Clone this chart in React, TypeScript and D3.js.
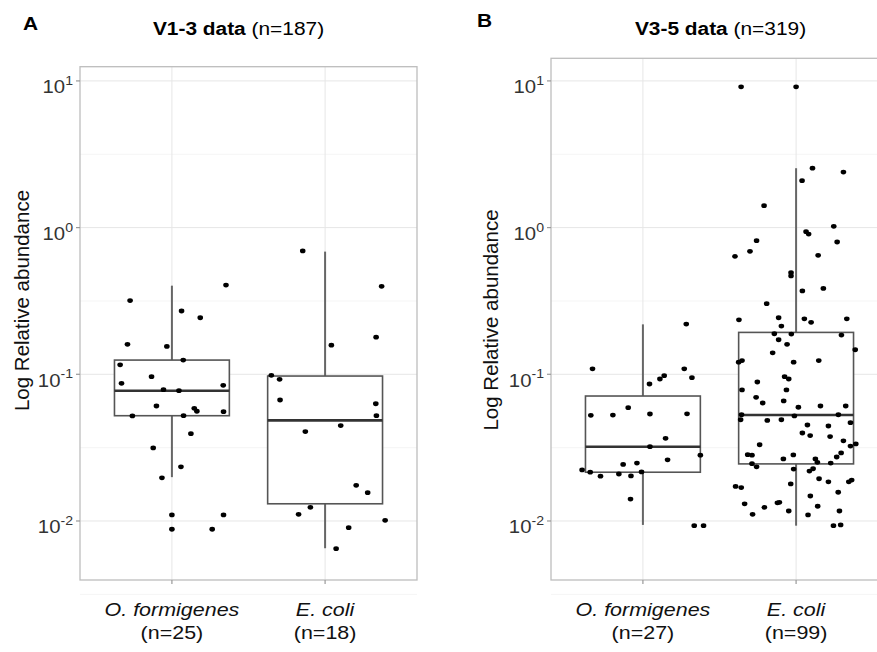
import * as d3 from "d3";

const categories = ["O. formigenes", "E. coli"];
const countsA = ["(n=25)", "(n=18)"];
const countsB = ["(n=27)", "(n=99)"];
const yMajor = [0.01, 0.1, 1, 10];
const yMajorExp = ["-2", "-1", "0", "1"];
const yMinor = [0.00316, 0.0316, 0.316, 3.16];

// box stats per category: [lower whisker, q1, median, q3, upper whisker]
const boxV13 = [
  [0.0199, 0.0522, 0.0773, 0.125, 0.402],
  [0.00652, 0.0131, 0.0485, 0.0973, 0.686],
];
const boxV35 = [
  [0.0094, 0.0215, 0.0321, 0.0711, 0.219],
  [0.00929, 0.0245, 0.0528, 0.193, 2.54],
];

// points: [jitter offset in category widths, relative abundance]
const v13Oform: [number, number][] = [
  [0.353, 0.406], [-0.273, 0.318], [0.063, 0.27], [0.185, 0.243], [-0.29, 0.16],
  [-0.033, 0.155], [0.074, 0.125], [-0.338, 0.116], [-0.133, 0.0963], [-0.329, 0.0868],
  [0.335, 0.0841], [-0.055, 0.0785], [0.046, 0.0773], [-0.101, 0.0608], [0.146, 0.0586],
  [0.163, 0.056], [0.337, 0.0556], [-0.258, 0.052], [0.076, 0.0522], [0.124, 0.0394],
  [-0.122, 0.0315], [0.059, 0.0234], [-0.065, 0.0197], [0, 0.011], [0.337, 0.011],
  [0, 0.00878], [0.263, 0.00878],
];
const v13Ecoli: [number, number][] = [
  [-0.146, 0.693], [0.369, 0.398], [0.333, 0.179], [0.041, 0.158], [-0.351, 0.0984],
  [-0.297, 0.0924], [-0.294, 0.0668], [0.331, 0.063], [0.335, 0.0522], [0.102, 0.0447],
  [-0.129, 0.0407], [0.203, 0.0175], [0.278, 0.0156], [-0.096, 0.0124], [-0.173, 0.0111],
  [0.392, 0.0101], [0.154, 0.009], [0.072, 0.00648],
];
const v35Oform: [number, number][] = [
  [0.283, 0.22], [-0.329, 0.109], [0.27, 0.109], [0.32, 0.0948], [0.139, 0.0978],
  [0.111, 0.0929], [0.043, 0.0859], [-0.096, 0.0592], [-0.34, 0.0525], [-0.196, 0.0527],
  [0.046, 0.0536], [0.288, 0.0538], [0.148, 0.0366], [0.046, 0.0321], [0.375, 0.0281],
  [0.161, 0.0261], [-0.129, 0.0243], [-0.039, 0.0248], [-0.397, 0.0223], [-0.344, 0.0215],
  [-0.277, 0.0202], [-0.157, 0.0209], [-0.078, 0.0203], [-0.009, 0.0216], [-0.081, 0.0141],
  [0.335, 0.00929], [0.396, 0.00929],
];
const v35Ecoli: [number, number][] = [
  [-0.359, 9.12], [0, 9.12], [0.107, 2.54], [0.309, 2.39], [0.039, 2.09],
  [-0.209, 1.41], [0.246, 1.02], [0.065, 0.938], [0.082, 0.904], [-0.258, 0.815],
  [0.268, 0.798], [-0.301, 0.689], [-0.399, 0.637], [0.144, 0.647], [-0.033, 0.493],
  [-0.033, 0.468], [0.178, 0.385], [0.041, 0.37], [-0.192, 0.303], [-0.373, 0.235],
  [-0.114, 0.243], [-0.096, 0.213], [0.054, 0.239], [0.098, 0.226], [0.331, 0.239],
  [-0.142, 0.189], [-0.031, 0.188], [0.296, 0.185], [-0.114, 0.172], [-0.059, 0.16],
  [0.386, 0.147], [-0.153, 0.14], [-0.375, 0.121], [-0.353, 0.124], [-0.016, 0.121],
  [0.148, 0.124], [-0.075, 0.0963], [-0.048, 0.0929], [-0.253, 0.0886], [-0.353, 0.0782],
  [-0.063, 0.0782], [-0.261, 0.0697], [-0.218, 0.0637], [-0.081, 0.0658], [0.015, 0.0596],
  [0.159, 0.0608], [0.324, 0.0608], [-0.356, 0.053], [-0.362, 0.049], [-0.011, 0.052],
  [-0.188, 0.0485], [-0.096, 0.049], [0.276, 0.053], [0.355, 0.0468], [0.074, 0.0451],
  [0.211, 0.0444], [0.041, 0.0398], [0.092, 0.0382], [0.222, 0.0376], [0.309, 0.0352],
  [0.39, 0.0335], [0.355, 0.0324], [-0.238, 0.0331], [0.294, 0.0291], [0.265, 0.0273],
  [-0.316, 0.0283], [-0.288, 0.0281], [-0.018, 0.0282], [-0.083, 0.0265], [0.126, 0.0265],
  [0.139, 0.0251], [0.226, 0.0248], [-0.288, 0.0246], [-0.258, 0.0234], [-0.016, 0.0226],
  [0.111, 0.0227], [0.087, 0.0219], [0.15, 0.0194], [0.211, 0.0185], [0.344, 0.0185],
  [0.363, 0.019], [-0.035, 0.0179], [-0.395, 0.0172], [-0.358, 0.0169], [0.275, 0.0157],
  [0.093, 0.0148], [-0.336, 0.0131], [-0.122, 0.0133], [-0.109, 0.0134], [-0.207, 0.0124],
  [0.141, 0.0126], [-0.048, 0.0117], [0.283, 0.0117], [-0.284, 0.0111], [0.078, 0.011],
  [0.244, 0.00929], [0.291, 0.0094],
];

const FONT = "'Liberation Sans', Arial, Helvetica, sans-serif";
const SX = 1.13; // reference text is slightly wide

function Panel(props: any) {
  const { left, right, top, bottom, yLo, yHi, boxes, groups, counts } = props;
  const x = d3.scalePoint<string>().domain(categories).range([left, right]).padding(0.6);
  const step = x.step();
  const y = d3.scaleLog().domain([yLo, yHi]).range([bottom, top]);
  const half = step * 0.375;

  return (
    <g>
      {/* grid */}
      {yMinor.map((v) => (
        <line key={"mi" + v} x1={left} x2={right} y1={y(v)} y2={y(v)} stroke="#f2f2f2" strokeWidth={0.8} />
      ))}
      {yMajor.map((v) => (
        <line key={"ma" + v} x1={left} x2={right} y1={y(v)} y2={y(v)} stroke="#e6e6e6" strokeWidth={1} />
      ))}
      {categories.map((c) => (
        <line key={"vx" + c} x1={x(c)} x2={x(c)} y1={top} y2={bottom} stroke="#e6e6e6" strokeWidth={1} />
      ))}

      {/* boxes */}
      {categories.map((c, i) => {
        const [lo, q1, med, q3, hi] = boxes[i];
        const cx = x(c)!;
        return (
          <g key={"b" + c}>
            <line x1={cx} x2={cx} y1={y(hi)} y2={y(q3)} stroke="#666" strokeWidth={2} />
            <line x1={cx} x2={cx} y1={y(q1)} y2={y(lo)} stroke="#666" strokeWidth={2} />
            <rect x={cx - half} y={y(q3)} width={half * 2} height={y(q1) - y(q3)}
              fill="white" stroke="#555" strokeWidth={1.6} />
            <line x1={cx - half} x2={cx + half} y1={y(med)} y2={y(med)} stroke="#333" strokeWidth={2.6} />
          </g>
        );
      })}

      {/* jittered points */}
      {categories.map((c, i) =>
        groups[i].map(([j, v]: [number, number], k: number) => (
          <ellipse key={c + k} cx={x(c)! + j * step} cy={y(v)} rx={2.8} ry={2.4} fill="#000" />
        ))
      )}

      {/* border */}
      <rect x={left} y={top} width={right - left} height={bottom - top} fill="none" stroke="#bdbdbd" strokeWidth={1.3} />

      {/* y axis */}
      {yMajor.map((v, i) => (
        <g key={"yt" + v}>
          <line x1={left - 4} x2={left} y1={y(v)} y2={y(v)} stroke="#999" strokeWidth={1.2} />
          <text transform={`translate(${left - 7},${y(v) + 12.5}) scale(${SX},1)`} textAnchor="end"
            fontFamily={FONT} fontSize={18} fill="#333">
            10<tspan dy={-8.5} fontSize={12.5}>{yMajorExp[i]}</tspan>
          </text>
        </g>
      ))}

      {/* x axis */}
      {categories.map((c, i) => (
        <g key={"xt" + c}>
          <line x1={x(c)} x2={x(c)} y1={bottom} y2={bottom + 4} stroke="#999" strokeWidth={1.2} />
          <text transform={`translate(${x(c)},616) scale(${SX},1)`} textAnchor="middle"
            fontFamily={FONT} fontSize={19} fontStyle="italic" fill="#111">{c}</text>
          <text transform={`translate(${x(c)},638.5) scale(${SX},1)`} textAnchor="middle"
            fontFamily={FONT} fontSize={19} fill="#111">{counts[i]}</text>
        </g>
      ))}

      {/* y title */}
      <text transform={`translate(${props.yTitleX},${props.yTitleY}) rotate(-90)`} textAnchor="middle"
        fontFamily={FONT} fontSize={20.5} fill="#111">Log Relative abundance</text>

      {/* title */}
      <text transform={`translate(${props.titleX},35) scale(${SX},1)`} textAnchor="middle"
        fontFamily={FONT} fontSize={18.5} fill="#000">
        <tspan fontWeight="bold">{props.title}</tspan>{" " + props.titleN}
      </text>
      <text transform={`translate(${props.letterX},${props.letterY}) scale(1.1,1)`}
        fontFamily={FONT} fontSize={19} fontWeight="bold" fill="#000">{props.letter}</text>
    </g>
  );
}

export default function App() {
  return (
    <svg width={877} height={652} style={{ position: "absolute", left: 0, top: 0, background: "#fff" }}>
      <rect width={877} height={652} fill="#fff" />
      <Panel left={80} right={417} top={66.7} bottom={580} yLo={0.00396} yHi={12.5}
        boxes={boxV13} groups={[v13Oform, v13Ecoli]} counts={countsA}
        yTitleX={29} yTitleY={300.5} title="V1-3 data" titleN="(n=187)" titleX={238.5}
        letter="A" letterX={23} letterY={30} />
      <Panel left={551} right={888} top={58.3} bottom={580} yLo={0.00396} yHi={14.26}
        boxes={boxV35} groups={[v35Oform, v35Ecoli]} counts={countsB}
        yTitleX={498} yTitleY={320} title="V3-5 data" titleN="(n=319)" titleX={720.5}
        letter="B" letterX={477} letterY={27} />
    </svg>
  );
}
